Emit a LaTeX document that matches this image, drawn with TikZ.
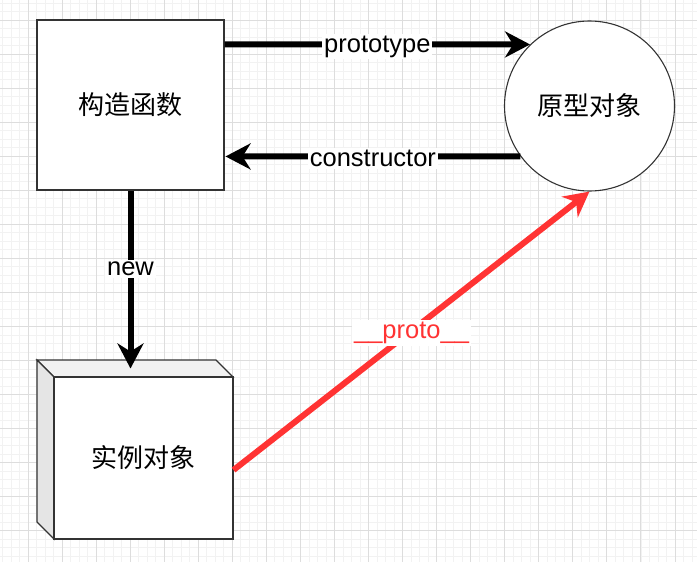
\documentclass[tikz,border=0pt]{standalone}
\usepackage{fontspec}
\setmainfont{Liberation Sans}
\newfontfamily\cjk{Noto Sans CJK SC}
\usetikzlibrary{arrows.meta,calc}
\definecolor{gridminor}{HTML}{F2F2F2}
\definecolor{gridmajor}{HTML}{DDDDDD}
\definecolor{protored}{HTML}{FF3333}
\definecolor{edgegray}{HTML}{333333}
\definecolor{topface}{HTML}{F1F1F1}
\definecolor{sideface}{HTML}{E5E5E5}
\tikzset{
  minorline/.style={draw=gridminor,line width=0.8pt},
  majorline/.style={draw=gridmajor,line width=0.9pt},
  shapebox/.style={draw=edgegray,line width=1.1pt,fill=white,inner sep=0pt},
  cjklabel/.style={font=\cjk\fontsize{26}{30}\selectfont},
  edgelabel/.style={fill=white,inner sep=2pt,yshift=-2pt,font=\fontsize{25.5}{30}\selectfont},
  fatarrow/.style={line width=6pt,-{Stealth[length=25pt,width=26pt,inset=8pt]}},
}
\begin{document}
\begin{tikzpicture}[x=1pt,y=-1pt]
\useasboundingbox (0,0) rectangle (697,562);
\begin{scope}
\clip (0,0) rectangle (697,562);
\foreach \i in {-4,...,80} { \draw[minorline] ({28+\i*8.5125},0) -- ({28+\i*8.5125},562); }
\foreach \i in {-3,...,64} { \draw[minorline] (0,{20+\i*8.5125}) -- (697,{20+\i*8.5125}); }
\foreach \i in {-1,...,20} { \draw[majorline] ({28+\i*34.05},0) -- ({28+\i*34.05},562); }
\foreach \i in {-1,...,16} { \draw[majorline] (0,{20+\i*34.05}) -- (697,{20+\i*34.05}); }
\end{scope}

% constructor box
\node[shapebox,minimum width=187pt,minimum height=170pt,cjklabel] (ctor) at (130.5,105) {构造函数};
% prototype circle
\node[shapebox,circle,minimum size=170pt,cjklabel] (proto) at (589.5,106) {原型对象};
% cube
\draw[edgegray,line width=1.1pt,fill=topface] (37,360) -- (216,360) -- (233,377) -- (54,377) -- cycle;
\draw[edgegray,line width=1.1pt,fill=sideface] (37,360) -- (54,377) -- (54,539) -- (37,522) -- cycle;
\node[shapebox,minimum width=179pt,minimum height=162pt,cjklabel] (inst) at (143.5,458) {实例对象};
\coordinate (cubetop) at (130.5,368.5);

% arrows
\draw[fatarrow] ($(ctor.north east)+(0,25)$) -- node[edgelabel]{prototype} (proto.134.1);
\draw[fatarrow] (proto.216.9) -- node[edgelabel]{constructor} ($(ctor.north east)+(1,137)$);
\draw[fatarrow] (ctor.south) -- node[edgelabel,pos=0.43]{new} (ctor.south |- cubetop);
\draw[fatarrow,protored] ($(inst.east)+(0,12)$) -- node[edgelabel,text=protored]{\_\_proto\_\_} (proto.south);
\end{tikzpicture}
\end{document}
